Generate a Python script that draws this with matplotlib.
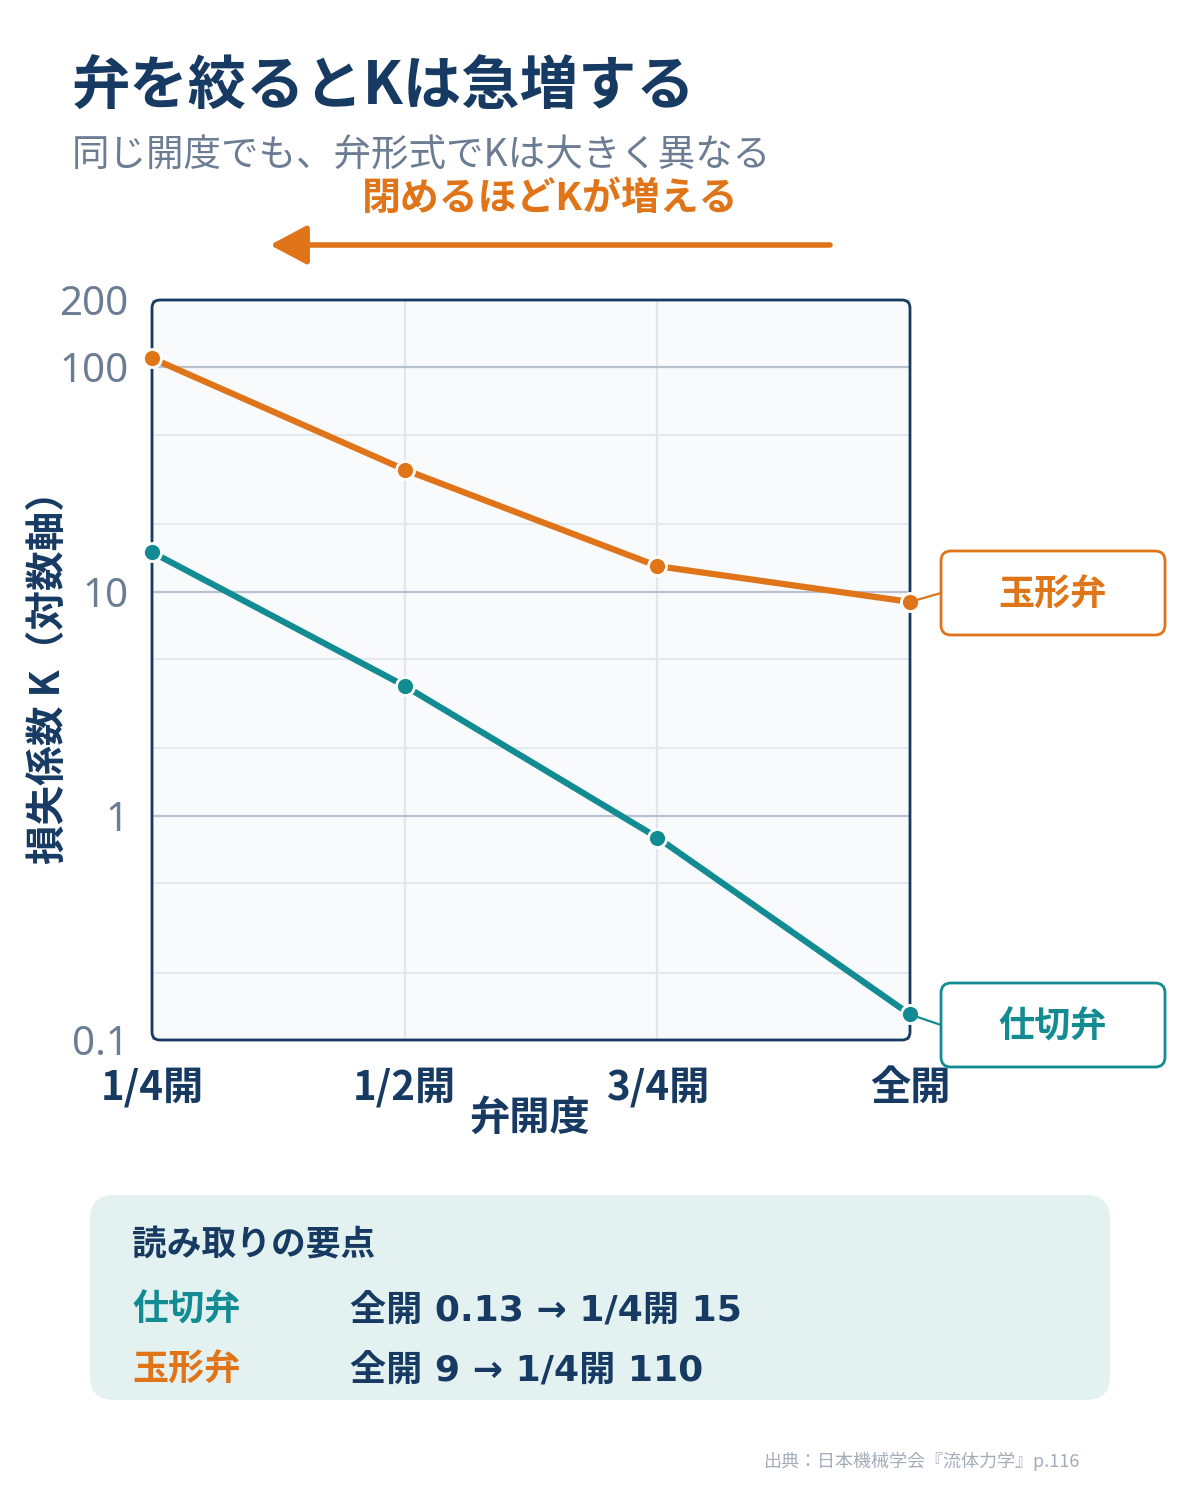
import matplotlib
matplotlib.use("Agg")
import matplotlib.pyplot as plt
import matplotlib.transforms as mtransforms
from matplotlib.patches import FancyBboxPatch, ConnectionPatch, FancyArrowPatch
from matplotlib.ticker import FixedLocator, NullFormatter

plt.rcParams["font.family"] = ["Noto Sans CJK JP", "DejaVu Sans"]

# data
openings = ["1/4開", "1/2開", "3/4開", "全開"]
gate_k = [15, 3.8, 0.8, 0.13]      # 仕切弁
globe_k = [110, 35, 13, 9]         # 玉形弁
y_ticks = [0.1, 1, 10, 100, 200]
y_tick_labels = ["0.1", "1", "10", "100", "200"]
minor_ticks = [0.2, 0.5, 2, 5, 20, 50]

NAVY = "#173a63"
ORANGE = "#e07418"
TEAL = "#128c92"
GRAY = "#6b7c93"

W, H = 1200, 1500
fig = plt.figure(figsize=(W / 100, H / 100), dpi=100)
fig.patch.set_facecolor("white")
# pixel coords measured from the top-left corner
pix = mtransforms.Affine2D().scale(1 / W, -1 / H).translate(0, 1) + fig.transFigure

# titles
fig.text(72, 88, "弁を絞るとKは急増する", transform=pix, fontsize=42, fontweight="bold",
         color=NAVY, ha="left", va="center")
fig.text(72, 155, "同じ開度でも、弁形式でKは大きく異なる", transform=pix, fontsize=27,
         color=GRAY, ha="left", va="center")
fig.text(550, 198, "閉めるほどKが増える", transform=pix, fontsize=28, fontweight="bold",
         color=ORANGE, ha="center", va="center")
fig.add_artist(FancyArrowPatch(
    (830, 245), (270, 245), transform=pix, arrowstyle="-|>,head_length=0.75,head_width=0.4",
    mutation_scale=30, lw=4, color=ORANGE, shrinkA=0, shrinkB=0))

# plot area
x0, x1, y0, y1 = 152, 910, 300, 1040
ax = fig.add_axes([x0 / W, 1 - y1 / H, (x1 - x0) / W, (y1 - y0) / H])
ax.set_facecolor("none")
fig.add_artist(FancyBboxPatch((x0, y0), x1 - x0, y1 - y0, transform=pix,
                              boxstyle="round,pad=0,rounding_size=8",
                              facecolor="#f8fafc", edgecolor="none", zorder=0))

xs = list(range(len(openings)))
ax.set_yscale("log")
ax.set_ylim(0.1, 200)
ax.set_xlim(0, len(openings) - 1)
ax.yaxis.set_major_locator(FixedLocator(y_ticks))
ax.set_yticklabels(y_tick_labels)
ax.yaxis.set_minor_locator(FixedLocator(minor_ticks))
ax.yaxis.set_minor_formatter(NullFormatter())
ax.set_xticks(xs)
ax.set_xticklabels(openings)
for s in ax.spines.values():
    s.set_visible(False)
ax.tick_params(axis="both", which="both", length=0)
ax.tick_params(axis="y", labelsize=29, labelcolor=GRAY, pad=17)
ax.tick_params(axis="x", labelsize=29, labelcolor=NAVY, pad=20)
for lab in ax.get_xticklabels():
    lab.set_fontweight("bold")
for lab in ax.get_yticklabels():
    lab.set_family(["Noto Sans", "DejaVu Sans"])

ax.grid(True, axis="y", which="major", color="#b7c2ce", lw=1.6, zorder=1)
ax.grid(True, axis="y", which="minor", color="#dfe6ee", lw=1.2, zorder=1)
ax.grid(True, axis="x", which="major", color="#dfe6ee", lw=1.6, zorder=1)
ax.set_axisbelow(True)

ax.add_artist(FancyBboxPatch((x0, y0), x1 - x0, y1 - y0, transform=pix,
                             boxstyle="round,pad=0,rounding_size=8",
                             facecolor="none", edgecolor=NAVY, lw=2, zorder=2, clip_on=False))

for vals, col in [(globe_k, ORANGE), (gate_k, TEAL)]:
    ax.plot(xs, vals, color=col, lw=4.5, marker="o", ms=13, mfc=col, mec="white",
            mew=2, zorder=4, clip_on=False)

fig.text(530, 1118, "弁開度", transform=pix, fontsize=29, fontweight="bold",
         color=NAVY, ha="center", va="center")
fig.text(48, 668, "損失係数 K（対数軸）", transform=pix, fontsize=28.5, fontweight="bold",
         color=NAVY, ha="center", va="center", rotation=90)

# callouts
for name, vals, col, cy in [("玉形弁", globe_k, ORANGE, 593), ("仕切弁", gate_k, TEAL, 1025)]:
    fig.add_artist(FancyBboxPatch((941, cy - 42), 224, 84, transform=pix,
                                  boxstyle="round,pad=0,rounding_size=10",
                                  facecolor="white", edgecolor=col, lw=2, zorder=3))
    fig.text(1053, cy + 2, name, transform=pix, fontsize=26, fontweight="bold",
             color=col, ha="center", va="center", zorder=4)
    fig.add_artist(ConnectionPatch(xyA=(xs[-1], vals[-1]), coordsA=ax.transData,
                                   xyB=(941, cy), coordsB=pix, color=col, lw=1.6, zorder=3))

# summary panel
fig.add_artist(FancyBboxPatch((90, 1195), 1020, 205, transform=pix,
                              boxstyle="round,pad=0,rounding_size=24",
                              facecolor="#e3f2f0", edgecolor="none", zorder=0))
fig.text(132, 1245, "読み取りの要点", transform=pix, fontsize=25, fontweight="bold",
         color=NAVY, ha="left", va="center")
rows = [("仕切弁", TEAL, f"全開 {gate_k[-1]} → 1/4開 {gate_k[0]}", 1310),
        ("玉形弁", ORANGE, f"全開 {globe_k[-1]} → 1/4開 {globe_k[0]}", 1370)]
for name, col, txt, ry in rows:
    fig.text(132, ry, name, transform=pix, fontsize=26, fontweight="bold",
             color=col, ha="left", va="center")
    fig.text(350, ry, txt, transform=pix, fontsize=26, fontweight="bold",
             color=NAVY, ha="left", va="center", family=["DejaVu Sans", "Noto Sans CJK JP"])

fig.text(1080, 1461, "出典：日本機械学会『流体力学』p.116", transform=pix, fontsize=13,
         color="#a3adb8", ha="right", va="center")

fig.savefig("out.png", dpi=100)
